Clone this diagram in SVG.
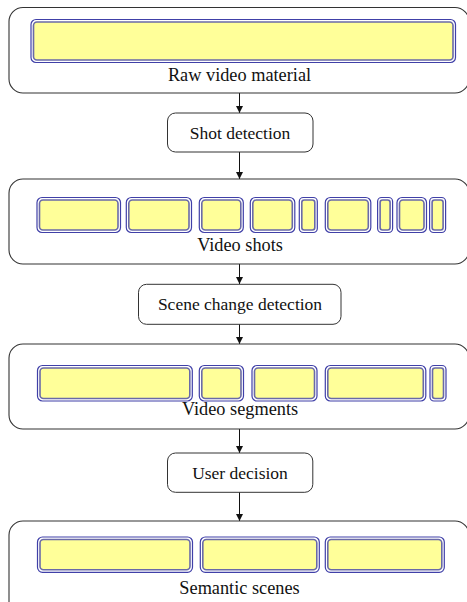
<svg xmlns="http://www.w3.org/2000/svg" width="467" height="602" viewBox="0 0 467 602">
<style>
.cont{fill:#fff;stroke:#333;stroke-width:1.1}
.box{fill:#fff;stroke:#333;stroke-width:1}
.bo{fill:#fff;stroke:#4040a8;stroke-width:1.2}
.bi{fill:#ffff99;stroke:#6a6aa8;stroke-width:1.6}
.t{font-family:"Liberation Serif","Times New Roman",serif;fill:#111;text-anchor:middle}
.tc{font-size:18.3px}
.tb{font-size:17.5px}
.ln{stroke:#111;stroke-width:1;fill:none;marker-end:url(#ah)}
</style>
<defs>
<marker id="ah" viewBox="0 0 10 10" refX="10" refY="5" markerWidth="7" markerHeight="8" markerUnits="userSpaceOnUse" orient="auto">
<path d="M0,0 L10,5 L0,10 z" fill="#111"/>
</marker>
<symbol id="x"/>
</defs>
<g id="connectors">
<line class="ln" x1="239.5" y1="93" x2="239.5" y2="113"/>
<line class="ln" x1="239.5" y1="152" x2="239.5" y2="179"/>
<line class="ln" x1="239.5" y1="264" x2="239.5" y2="284"/>
<line class="ln" x1="239.5" y1="324" x2="239.5" y2="344"/>
<line class="ln" x1="239.5" y1="429" x2="239.5" y2="453"/>
<line class="ln" x1="239.5" y1="492" x2="239.5" y2="521"/>
</g>
<g id="raw">
<rect class="cont" x="9" y="7.5" width="460" height="85.5" rx="14"/>
<rect class="bo" x="31" y="19.5" width="424.5" height="43" rx="5"/>
<rect class="bi" x="33.5" y="22" width="419.5" height="38" rx="3.5"/>
<text class="t tc" x="239.5" y="81">Raw video material</text>
</g>
<g id="shotdet">
<rect class="box" x="167.5" y="113" width="145.5" height="39" rx="8"/>
<text class="t tb" x="240" y="138.5">Shot detection</text>
</g>
<g id="shots">
<rect class="cont" x="9" y="179" width="460" height="85" rx="14"/>
<rect class="bo" x="37" y="197.5" width="83.5" height="35" rx="5"/><rect class="bi" x="39.5" y="200" width="78.5" height="30" rx="3.5"/>
<rect class="bo" x="126.3" y="197.5" width="65.2" height="35" rx="5"/><rect class="bi" x="128.8" y="200" width="60.2" height="30" rx="3.5"/>
<rect class="bo" x="199.3" y="197.5" width="44" height="35" rx="5"/><rect class="bi" x="201.8" y="200" width="39" height="30" rx="3.5"/>
<rect class="bo" x="250.3" y="197.5" width="44.5" height="35" rx="5"/><rect class="bi" x="252.8" y="200" width="39.5" height="30" rx="3.5"/>
<rect class="bo" x="299.3" y="197.5" width="18" height="35" rx="4"/><rect class="bi" x="301.8" y="200" width="13" height="30" rx="2.5"/>
<rect class="bo" x="325.3" y="197.5" width="45.5" height="35" rx="5"/><rect class="bi" x="327.8" y="200" width="40.5" height="30" rx="3.5"/>
<rect class="bo" x="377.6" y="197.5" width="15" height="35" rx="4"/><rect class="bi" x="380.1" y="200" width="10" height="30" rx="2.5"/>
<rect class="bo" x="397" y="197.5" width="29.5" height="35" rx="5"/><rect class="bi" x="399.5" y="200" width="24.5" height="30" rx="3.5"/>
<rect class="bo" x="429.6" y="197.5" width="16" height="35" rx="4"/><rect class="bi" x="432.1" y="200" width="11" height="30" rx="2.5"/>
<text class="t tc" x="240" y="251">Video shots</text>
</g>
<g id="scenedet">
<rect class="box" x="138.5" y="284.3" width="202.5" height="40" rx="8"/>
<text class="t tb" x="240" y="310">Scene change detection</text>
</g>
<g id="segments">
<rect class="cont" x="9" y="344" width="460" height="85" rx="14"/>
<rect class="bo" x="37.5" y="365.5" width="154.8" height="35.5" rx="5"/><rect class="bi" x="40" y="368" width="149.8" height="30.5" rx="3.5"/>
<rect class="bo" x="199.3" y="365.5" width="44.2" height="35.5" rx="5"/><rect class="bi" x="201.8" y="368" width="39.2" height="30.5" rx="3.5"/>
<rect class="bo" x="252" y="365.5" width="65" height="35.5" rx="5"/><rect class="bi" x="254.5" y="368" width="60" height="30.5" rx="3.5"/>
<rect class="bo" x="325.3" y="365.5" width="100.5" height="35.5" rx="5"/><rect class="bi" x="327.8" y="368" width="95.5" height="30.5" rx="3.5"/>
<rect class="bo" x="430" y="365.5" width="16" height="35.5" rx="4"/><rect class="bi" x="432.5" y="368" width="11" height="30.5" rx="2.5"/>
<text class="t tc" x="240" y="415">Video segments</text>
</g>
<g id="userdec">
<rect class="box" x="167.5" y="453" width="145.3" height="39.3" rx="8"/>
<text class="t tb" x="240" y="478.5">User decision</text>
</g>
<g id="scenes">
<rect class="cont" x="9" y="521" width="460" height="95" rx="14"/>
<rect class="bo" x="37.5" y="537" width="155" height="35.3" rx="5"/><rect class="bi" x="40" y="539.5" width="150" height="30.3" rx="3.5"/>
<rect class="bo" x="200.3" y="537" width="119" height="35.3" rx="5"/><rect class="bi" x="202.8" y="539.5" width="114" height="30.3" rx="3.5"/>
<rect class="bo" x="325.3" y="537" width="119" height="35.3" rx="5"/><rect class="bi" x="327.8" y="539.5" width="114" height="30.3" rx="3.5"/>
<text class="t tc" x="239.5" y="594">Semantic scenes</text>
</g>
</svg>
